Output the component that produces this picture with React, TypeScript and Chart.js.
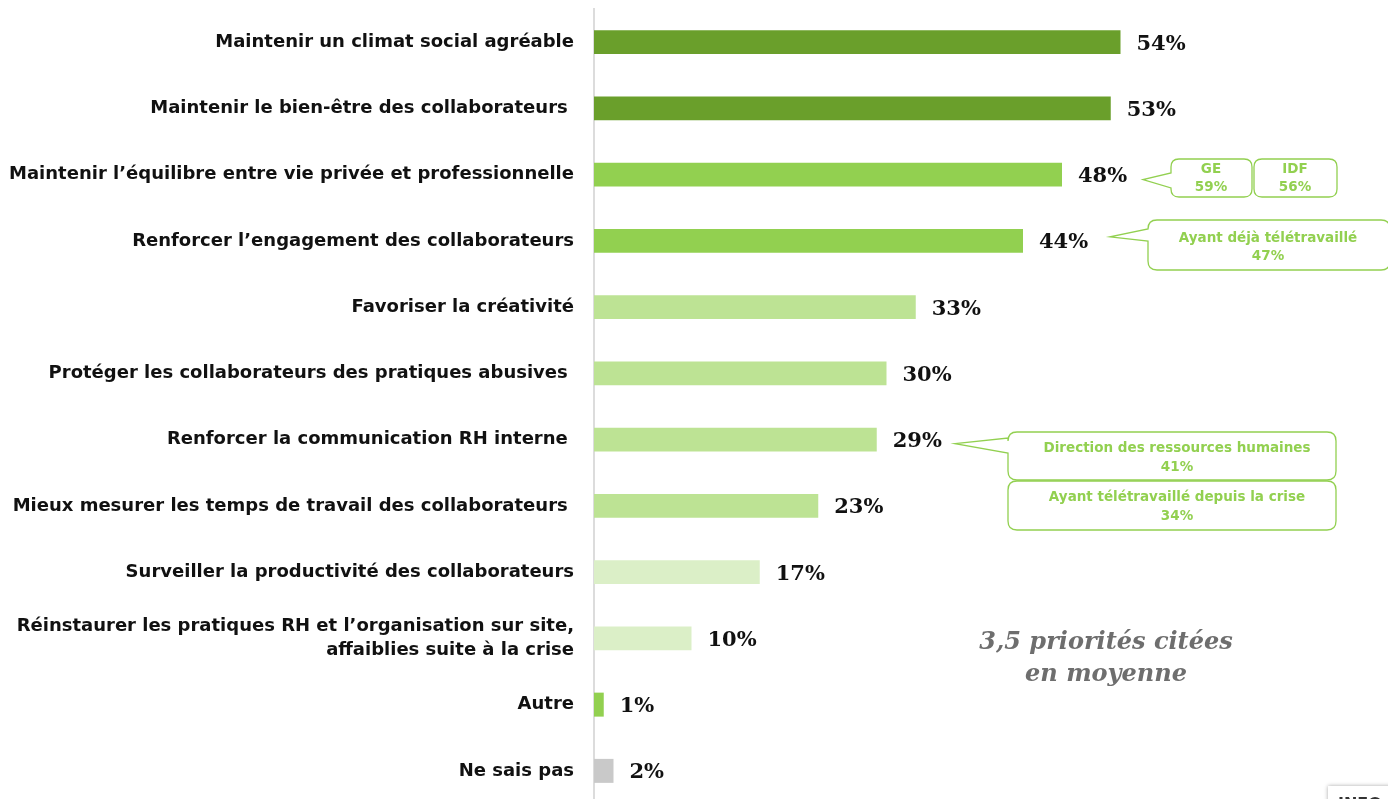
import React, { useEffect, useRef } from "react";
import { Chart, registerables } from "chart.js";

Chart.register(...registerables);

const categories: (string | string[])[] = [
  "Maintenir un climat social agréable",
  "Maintenir le bien-être des collaborateurs ",
  "Maintenir l’équilibre entre vie privée et professionnelle",
  "Renforcer l’engagement des collaborateurs",
  "Favoriser la créativité",
  "Protéger les collaborateurs des pratiques abusives ",
  "Renforcer la communication RH interne ",
  "Mieux mesurer les temps de travail des collaborateurs ",
  "Surveiller la productivité des collaborateurs",
  ["Réinstaurer les pratiques RH et l’organisation sur site,", "affaiblies suite à la crise"],
  "Autre",
  "Ne sais pas",
];

const values = [54, 53, 48, 44, 33, 30, 29, 23, 17, 10, 1, 2];
const valueLabels = ["54%", "53%", "48%", "44%", "33%", "30%", "29%", "23%", "17%", "10%", "1%", "2%"];

const barColors = [
  "#6a9f2b", "#6a9f2b",
  "#92d050", "#92d050",
  "#bde394", "#bde394", "#bde394", "#bde394",
  "#dbefc7", "#dbefc7",
  "#92d050",
  "#c9c9c9",
];

const callout1Labels = ["GE", "IDF"];
const callout1Values = ["59%", "56%"];
const callout2Label = "Ayant déjà télétravaillé";
const callout2Value = "47%";
const callout3Labels = ["Direction des ressources humaines", "Ayant télétravaillé depuis la crise"];
const callout3Values = ["41%", "34%"];
const noteLines = ["3,5 priorités citées", "en moyenne"];

const GREEN = "#92d050";

function roundRectPath(ctx: CanvasRenderingContext2D, x: number, y: number, w: number, h: number, r: number) {
  ctx.beginPath();
  ctx.moveTo(x + r, y);
  ctx.lineTo(x + w - r, y);
  ctx.quadraticCurveTo(x + w, y, x + w, y + r);
  ctx.lineTo(x + w, y + h - r);
  ctx.quadraticCurveTo(x + w, y + h, x + w - r, y + h);
  ctx.lineTo(x + r, y + h);
  ctx.quadraticCurveTo(x, y + h, x, y + h - r);
  ctx.lineTo(x, y + r);
  ctx.quadraticCurveTo(x, y, x + r, y);
  ctx.closePath();
}

function tailBoxPath(
  ctx: CanvasRenderingContext2D,
  x: number, y: number, w: number, h: number, r: number,
  tipX: number, tipY: number, j1: number, j2: number
) {
  ctx.beginPath();
  ctx.moveTo(x + r, y);
  ctx.lineTo(x + w - r, y);
  ctx.quadraticCurveTo(x + w, y, x + w, y + r);
  ctx.lineTo(x + w, y + h - r);
  ctx.quadraticCurveTo(x + w, y + h, x + w - r, y + h);
  ctx.lineTo(x + r, y + h);
  ctx.quadraticCurveTo(x, y + h, x, y + h - r);
  ctx.lineTo(x, j2);
  ctx.lineTo(tipX, tipY);
  ctx.lineTo(x, j1);
  ctx.lineTo(x, y + r);
  ctx.quadraticCurveTo(x, y, x + r, y);
  ctx.closePath();
}

const labelsPlugin = {
  id: "valueLabels",
  afterDatasetsDraw(chart: any) {
    const ctx: CanvasRenderingContext2D = chart.ctx;
    const meta = chart.getDatasetMeta(0);
    ctx.save();
    ctx.font = "bold 21px 'DejaVu Serif'";
    ctx.fillStyle = "#111";
    ctx.textAlign = "left";
    ctx.textBaseline = "middle";
    meta.data.forEach((bar: any, i: number) => {
      ctx.fillText(valueLabels[i], bar.x + 16, bar.y + 2);
    });
    ctx.restore();
  },
  afterDraw(chart: any) {
    const ctx: CanvasRenderingContext2D = chart.ctx;
    const meta = chart.getDatasetMeta(0);
    ctx.save();
    ctx.strokeStyle = GREEN;
    ctx.lineWidth = 1.3;
    ctx.fillStyle = GREEN;
    ctx.textAlign = "center";
    ctx.textBaseline = "middle";
    ctx.font = "bold 13.5px 'DejaVu Sans'";

    // Callout 1 (row 3)
    const b2 = meta.data[2];
    tailBoxPath(ctx, 1171, 159, 81, 38, 8, 1143, b2.y + 5, 173, 188);
    ctx.stroke();
    roundRectPath(ctx, 1254, 159, 83, 38, 8);
    ctx.stroke();
    ctx.fillText(callout1Labels[0], 1211, 169);
    ctx.fillText(callout1Values[0], 1211, 187);
    ctx.fillText(callout1Labels[1], 1295, 169);
    ctx.fillText(callout1Values[1], 1295, 187);

    // Callout 2 (row 4)
    const b3 = meta.data[3];
    tailBoxPath(ctx, 1148, 220, 242, 50, 9, 1110, b3.y - 4, 229, 241);
    ctx.stroke();
    ctx.fillText(callout2Label, 1268, 238);
    ctx.fillText(callout2Value, 1268, 256);

    // Callout 3 (row 7)
    const b6 = meta.data[6];
    tailBoxPath(ctx, 1008, 432, 328, 48, 9, 955, b6.y + 4, 438, 453);
    ctx.stroke();
    roundRectPath(ctx, 1008, 481, 328, 49, 9);
    ctx.stroke();
    ctx.fillText(callout3Labels[0], 1177, 448);
    ctx.fillText(callout3Values[0], 1177, 467);
    ctx.fillText(callout3Labels[1], 1177, 497);
    ctx.fillText(callout3Values[1], 1177, 516);

    // Note
    ctx.fillStyle = "#6e6e6e";
    ctx.font = "italic bold 24px 'DejaVu Serif'";
    ctx.fillText(noteLines[0], 1106, 643);
    ctx.fillText(noteLines[1], 1106, 675);

    // INFO box (cut off)
    ctx.fillStyle = "#ffffff";
    ctx.shadowColor = "rgba(0,0,0,0.35)";
    ctx.shadowBlur = 4;
    ctx.fillRect(1328, 786, 70, 30);
    ctx.shadowBlur = 0;
    ctx.shadowColor = "transparent";
    ctx.fillStyle = "#333";
    ctx.textAlign = "left";
    ctx.font = "bold 16px 'DejaVu Sans'";
    ctx.fillText("INFO", 1338, 805);
    ctx.restore();
  },
};

export default function App() {
  const canvasRef = useRef<HTMLCanvasElement | null>(null);

  useEffect(() => {
    if (!canvasRef.current) return;
    const chart = new Chart(canvasRef.current, {
      type: "bar",
      data: {
        labels: categories,
        datasets: [
          {
            data: values,
            backgroundColor: barColors,
            borderWidth: 0,
            barPercentage: 0.362,
            categoryPercentage: 1,
          },
        ],
      },
      options: {
        indexAxis: "y",
        animation: false,
        responsive: true,
        maintainAspectRatio: false,
        layout: { padding: { top: 9, bottom: 6, left: 0, right: 14 } },
        plugins: {
          legend: { display: false },
          tooltip: { enabled: false },
        },
        scales: {
          x: {
            display: false,
            min: 0,
            max: 80,
          },
          y: {
            afterFit: (scale: any) => {
              scale.width = 594;
              scale.paddingTop = 0;
              scale.paddingBottom = 0;
            },
            grid: { display: false, drawTicks: false },
            border: { display: true, color: "#dcdcdc", width: 2 },
            ticks: {
              padding: 20,
              color: "#111",
              font: { family: "'DejaVu Sans'", weight: "bold", size: 18, lineHeight: 1.33 },
            },
          },
        },
      },
      plugins: [labelsPlugin],
    });
    return () => chart.destroy();
  }, []);

  return (
    <div style={{ position: "absolute", left: 0, top: 0, width: 1388, height: 810 }}>
      <canvas ref={canvasRef} />
    </div>
  );
}
